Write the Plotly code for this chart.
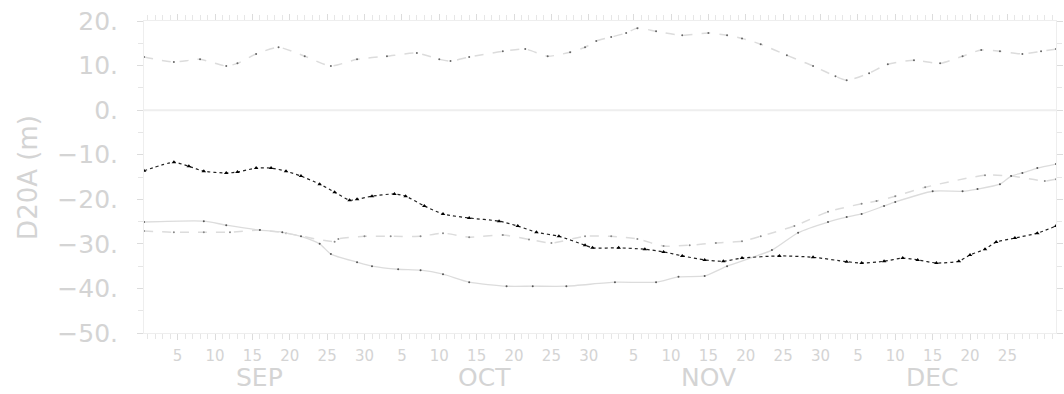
import plotly.graph_objects as go

# x = days since 1 Sep 00:00 (season Sep-Dec)
black_days = [0, 4, 6, 8, 11, 12.5, 15, 17, 19, 21, 23.5, 25.5, 27.5, 28.5, 30.5, 33.5, 35, 37.5, 40, 43.5, 47.5, 50, 52.5, 55.5, 59, 60, 63.5, 67, 69.5, 72, 75, 77.5, 80, 85, 89.5, 94, 96, 99, 101.5, 103.5, 106, 109, 110.5, 112.5, 114, 116.5, 119.5, 122]
black_vals = [-13.6, -11.7, -12.6, -13.7, -14.1, -13.9, -13.0, -13.0, -13.7, -14.8, -16.6, -18.4, -20.2, -20.0, -19.3, -18.8, -19.3, -21.5, -23.3, -24.2, -24.9, -26.0, -27.4, -28.3, -30.3, -30.9, -30.9, -31.2, -31.8, -32.7, -33.6, -33.9, -33.2, -32.7, -33.0, -34.0, -34.3, -33.9, -33.2, -33.6, -34.3, -33.9, -32.5, -31.2, -29.6, -28.7, -27.6, -26.0]

solid_days = [0, 8, 11, 15.5, 18.5, 21, 23.5, 25, 28.5, 30.5, 34, 37, 40, 43.5, 48.5, 52, 56.5, 63, 68.5, 71.5, 75, 78, 84, 87.5, 91.5, 94, 96, 99, 100.5, 105.5, 109.5, 111.5, 114.5, 116, 117.5, 119.5, 122]
solid_vals = [-25.1, -24.9, -25.8, -26.9, -27.4, -28.3, -30.0, -32.3, -34.1, -35.0, -35.7, -35.9, -36.8, -38.6, -39.5, -39.5, -39.5, -38.6, -38.6, -37.4, -37.2, -35.0, -31.4, -27.5, -25.1, -24.0, -23.3, -21.5, -20.6, -18.2, -18.2, -17.7, -16.6, -14.8, -14.1, -13.0, -12.1]

dash_days = [0, 4, 8, 11.5, 15.5, 19, 25.5, 26, 29.5, 33, 37, 40, 43.5, 48, 51.5, 54.5, 59, 62.5, 66, 69.5, 73, 76.5, 80, 82.5, 87, 91.5, 96, 98, 100.5, 104.5, 112.5, 116, 120.5, 122]
dash_vals = [-27.1, -27.4, -27.4, -27.4, -26.9, -27.6, -29.5, -28.9, -28.3, -28.3, -28.3, -27.6, -28.5, -28.0, -29.0, -29.8, -28.3, -28.3, -28.9, -30.5, -30.3, -29.8, -29.4, -28.3, -26.0, -22.8, -21.0, -20.4, -19.3, -17.3, -14.6, -14.8, -15.9, -15.5]

top_days = [0, 4, 7.5, 11, 12.5, 15, 18, 21.5, 25, 28.5, 32.5, 36.5, 39.5, 41, 43.5, 48, 51, 54, 57, 59, 60.5, 62.5, 64.5, 66, 68.5, 72, 75.5, 78, 80, 82.5, 86, 89.5, 92.5, 94, 97, 99.5, 103, 106.5, 109.5, 112, 114.5, 117.5, 120, 122]
top_vals = [11.9, 10.8, 11.4, 9.9, 10.5, 12.6, 14.1, 12.1, 9.9, 11.4, 12.1, 12.8, 11.4, 11.0, 11.9, 13.2, 13.7, 12.1, 13.0, 14.1, 15.5, 16.4, 17.3, 18.4, 17.7, 16.8, 17.3, 16.8, 16.1, 14.8, 12.3, 9.9, 7.6, 6.7, 8.3, 10.3, 11.2, 10.5, 12.1, 13.5, 13.2, 12.6, 13.2, 13.7]

# tick labels: day-of-month labels placed at noon of that day
month_starts = [0, 30, 61, 91]
month_names = ["SEP", "OCT", "NOV", "DEC"]
month_label_days = [[5, 10, 15, 20, 25, 30], [5, 10, 15, 20, 25, 30], [5, 10, 15, 20, 25, 30], [5, 10, 15, 20, 25]]
month_centres = [15.5, 45.5, 75.5, 105.5]
y_tick_vals = [20, 10, 0, -10, -20, -30, -40, -50]
y_tick_text = ["20.", "10.", "0.", "\u221210.", "\u221220.", "\u221230.", "\u221240.", "\u221250."]

x_tick_vals = []
x_tick_text = []
for s, days in zip(month_starts, month_label_days):
    for d in days:
        x_tick_vals.append(s + d - 0.5)
        x_tick_text.append(str(d))

LIGHT = "#dcdcdc"
TEXT = "#d4d4d4"
FONT = "DejaVu Sans"

fig = go.Figure()

fig.add_trace(go.Scatter(x=top_days, y=top_vals, mode="lines+markers",
                         line=dict(color=LIGHT, width=1.5, dash="dash", shape="spline", smoothing=0.6),
                         marker=dict(color="#666666", size=2)))
fig.add_trace(go.Scatter(x=dash_days, y=dash_vals, mode="lines+markers",
                         line=dict(color=LIGHT, width=1.5, dash="dash", shape="spline", smoothing=0.6),
                         marker=dict(color="#888888", size=2)))
fig.add_trace(go.Scatter(x=solid_days, y=solid_vals, mode="lines+markers",
                         line=dict(color=LIGHT, width=1.3, shape="spline", smoothing=0.6),
                         marker=dict(color="#555555", size=2)))
fig.add_trace(go.Scatter(x=black_days, y=black_vals, mode="lines+markers",
                         line=dict(color="#222222", width=1.2, dash="dot", shape="spline", smoothing=0.6),
                         marker=dict(color="black", size=4, symbol="triangle-up")))

fig.add_hline(y=0, line=dict(color="#eeeeee", width=2))

for name, c in zip(month_names, month_centres):
    fig.add_annotation(x=c, y=-0.142, xref="x", yref="paper", text=name, showarrow=False,
                       font=dict(family=FONT, size=25, color=TEXT), yanchor="middle")

fig.add_annotation(x=27, y=0.5, xref="paper", yref="paper", text="D20A (m)", textangle=-90,
                   showarrow=False, font=dict(family=FONT, size=26, color=TEXT),
                   xanchor="center", yanchor="middle")
fig.layout.annotations[-1].x = (27 - 144) / 919

fig.update_xaxes(range=[0, 122], tickvals=x_tick_vals, ticktext=x_tick_text,
                 ticks="outside", ticklen=6, tickcolor=LIGHT, tickwidth=1,
                 minor=dict(dtick=1, tick0=0.5, ticks="outside", ticklen=5, tickcolor="#e6e6e6"),
                 showline=True, linecolor="#eeeeee", mirror="allticks", showgrid=False, zeroline=False,
                 tickfont=dict(family=FONT, size=15, color=TEXT), ticklabelstandoff=3)
fig.update_yaxes(range=[-50, 20], tickvals=y_tick_vals, ticktext=y_tick_text,
                 ticks="outside", ticklen=6, tickcolor=LIGHT,
                 minor=dict(tickvals=[15, 5, -5, -15, -25, -35, -45], ticks="outside", ticklen=5, tickcolor="#e6e6e6"),
                 showline=True, linecolor="#eeeeee", mirror="allticks", showgrid=False, zeroline=False,
                 tickfont=dict(family=FONT, size=25, color=TEXT), ticklabelstandoff=14)

fig.update_layout(width=1064, height=394, margin=dict(l=144, r=1, t=21, b=61),
                  paper_bgcolor="white", plot_bgcolor="white", showlegend=False)

fig.write_html("out.html")
